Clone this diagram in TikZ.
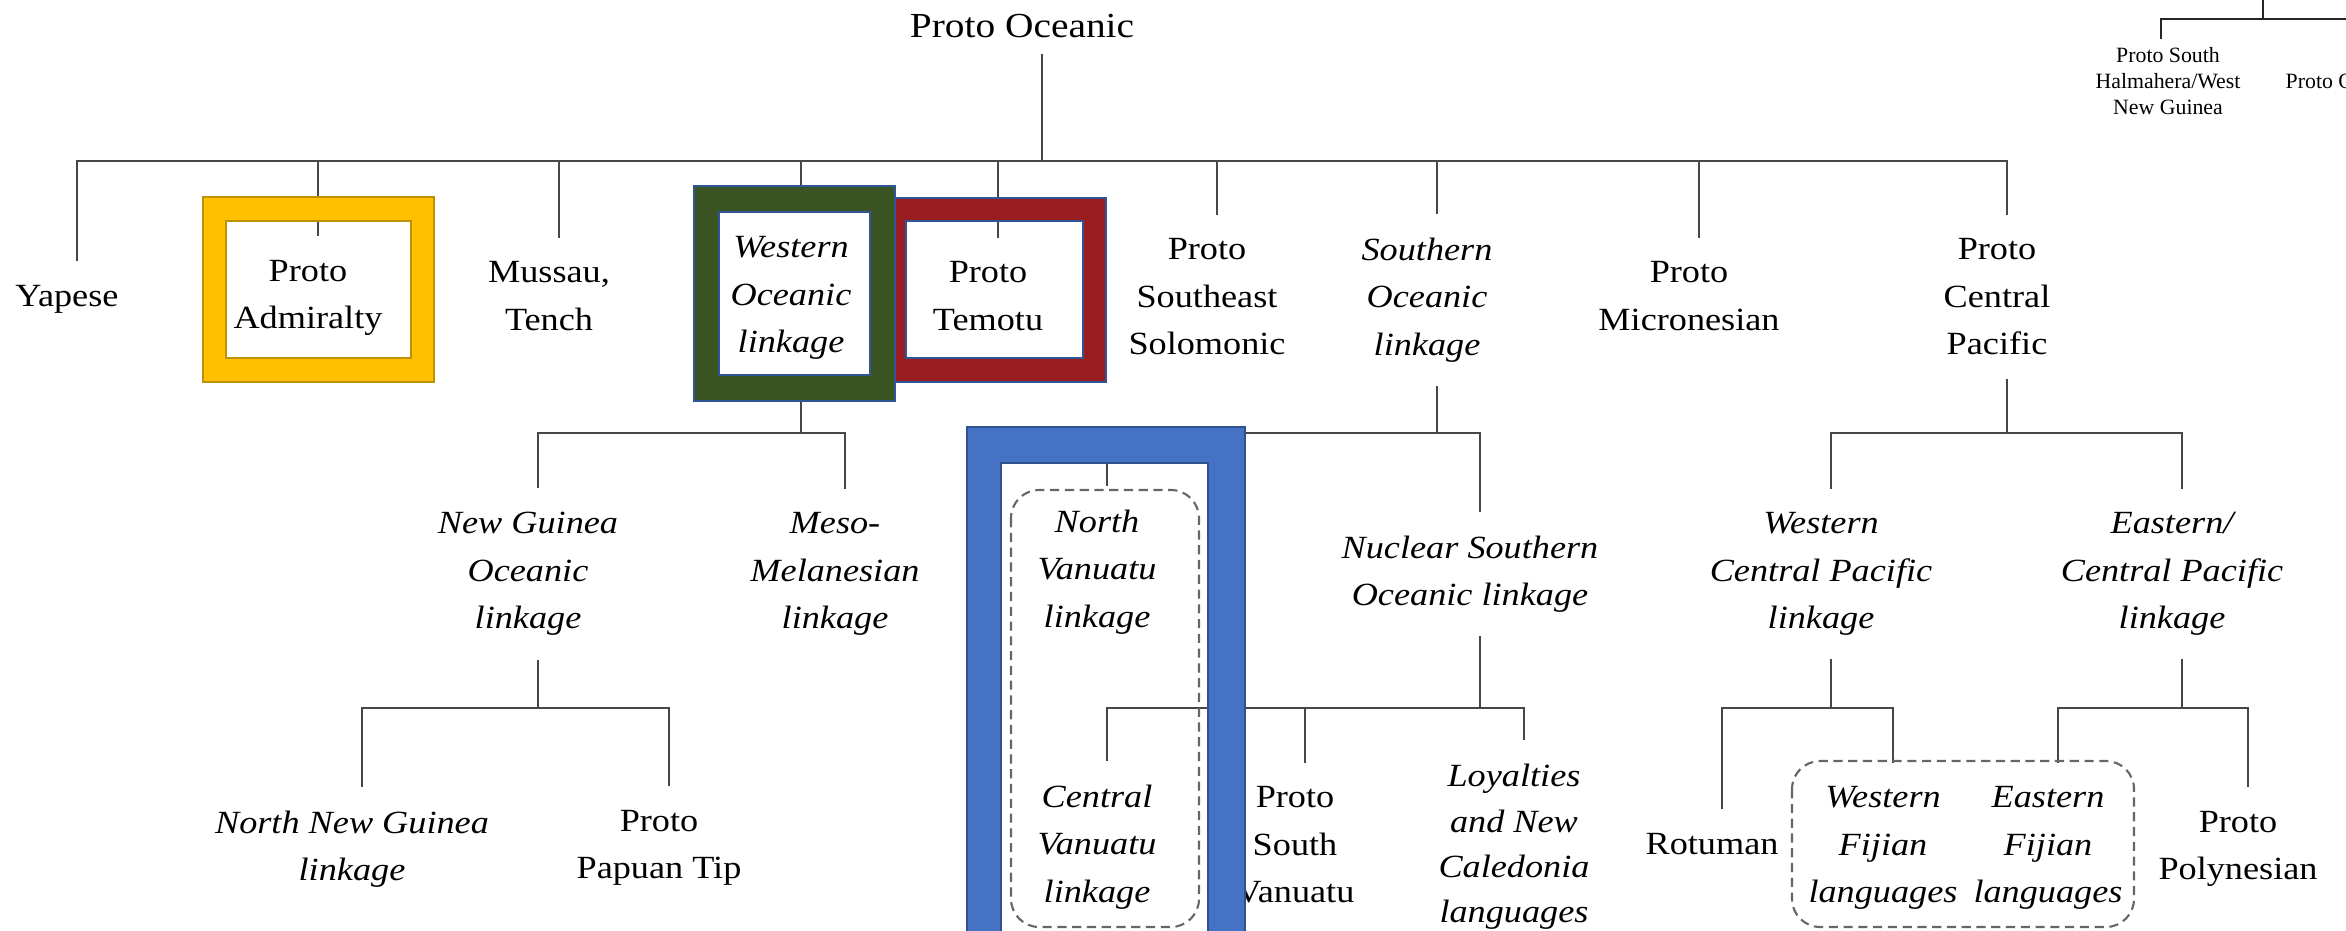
\documentclass[tikz,border=0pt]{standalone}
\usepackage{fontspec}
\setmainfont{Liberation Serif}[FakeStretch=1.12]
\newfontfamily\plainserif{Liberation Serif}
\definecolor{tgold}{HTML}{FFC000}
\definecolor{ogold}{HTML}{BF9000}
\definecolor{tgreen}{HTML}{3A5424}
\definecolor{tred}{HTML}{981C20}
\definecolor{tblue}{HTML}{4472C4}
\definecolor{oblue}{HTML}{2F5597}
\definecolor{oblue2}{HTML}{2F528F}
\tikzset{
  lbl/.style={font=\fontsize{9.2}{13.5}\selectfont, align=center, inner xsep=0pt, inner ysep=6.8pt, outer sep=0pt},
  itl/.style={lbl, font=\fontsize{9.2}{13.5}\selectfont\itshape},
  conn/.style={draw=black!72, line width=0.65pt},
  thinconn/.style={draw=black!85, line width=0.4pt},
  dbox/.style={draw=black!60, line width=0.6pt, dash pattern=on 2.6pt off 1.6pt, rounded corners=8pt},
  frame/.style={even odd rule, line width=0.45pt},
}
\begin{document}
\begin{tikzpicture}[x=0.01cm, y=-0.01cm]
\useasboundingbox (0,0) rectangle (2346,931);
\clip (0,0) rectangle (2346,931);

% ---------- text nodes ----------
\node[lbl, font=\fontsize{10}{12}\selectfont, inner ysep=4.5pt] (root) at (1022,26) {Proto Oceanic};
\node[lbl] (yap) at (67,299) {Yapese};
\node[lbl] (adm) at (308,298) {Proto\\Admiralty};
\node[lbl] (mus) at (549,296) {Mussau,\\Tench};
\node[itl] (wo) at (791,298) {Western\\Oceanic\\linkage};
\node[lbl] (tem) at (988,296) {Proto\\Temotu};
\node[lbl] (sese) at (1207,297) {Proto\\Southeast\\Solomonic};
\node[itl] (so) at (1427,300) {Southern\\Oceanic\\linkage};
\node[lbl] (mic) at (1689,296) {Proto\\Micronesian};
\node[lbl] (cp) at (1997,297) {Proto\\Central\\Pacific};

\node[itl] (ng) at (528,574) {New Guinea\\Oceanic\\linkage};
\node[itl] (meso) at (835,574) {Meso-\\Melanesian\\linkage};
\node[itl] (nv) at (1097,572) {North\\Vanuatu\\linkage};
\node[itl] (nso) at (1470,574) {Nuclear Southern\\Oceanic linkage};
\node[itl] (wcp) at (1821,574) {Western\\Central Pacific\\linkage};
\node[itl] (ecp) at (2172,574) {Eastern/\\Central Pacific\\linkage};

\node[itl] (nng) at (352,849) {North New Guinea\\linkage};
\node[lbl] (ppt) at (659,848) {Proto\\Papuan Tip};
\node[itl] (cv) at (1097,847) {Central\\Vanuatu\\linkage};
\node[lbl] (psv) at (1295,845) {Proto\\South\\Vanuatu};
\node[itl, font=\fontsize{9.2}{12.9}\selectfont\itshape] (loy) at (1514,847) {Loyalties\\and New\\Caledonia\\languages};
\node[lbl] (rot) at (1712,844) {Rotuman};
\node[itl] (wf) at (1883,848) {Western\\Fijian\\languages};
\node[itl] (ef) at (2048,848) {Eastern\\Fijian\\languages};
\node[lbl] (pp) at (2238,849) {Proto\\Polynesian};

% top-right fragment of another tree
\node[font=\plainserif\fontsize{6.2}{7.3}\selectfont, align=center, inner xsep=0pt, inner ysep=2.3pt] (shw) at (2168,81) {Proto South\\Halmahera/West\\New Guinea};
\node[font=\plainserif\fontsize{6.2}{7.3}\selectfont, anchor=west, inner sep=0pt] (poc) at (2285,81) {Proto Oceanic};

% ---------- connector anchor points ----------
\coordinate (root-b) at ([xshift=2mm]root.south);
\foreach \n in {yap,adm,mus,wo,tem,sese,so,mic,cp,ng,meso,nv,nso,wcp,ecp,nng,ppt,cv,psv,loy,rot,wf,ef,pp}
  \coordinate (\n-t) at ([xshift=1mm]\n.north);
\foreach \n in {wo,so,cp,ng,nso,wcp,ecp}
  \coordinate (\n-b) at ([xshift=1mm]\n.south);
\coordinate (y1) at (0,161);
\coordinate (y2) at (0,433);
\coordinate (y3) at (0,708);

% ---------- connectors ----------
\draw[conn] (root-b) -- (root-b |- y1);
\draw[conn] (yap-t) -- (yap-t |- y1) -- (cp-t |- y1) -- (cp-t);
\foreach \n in {adm,mus,wo,tem,sese,so,mic}
  \draw[conn] (\n-t |- y1) -- (\n-t);

\draw[conn] (wo-b) -- (wo-b |- y2);
\draw[conn] (ng-t) -- (ng-t |- y2) -- (meso-t |- y2) -- (meso-t);
\draw[conn] (so-b) -- (so-b |- y2);
\draw[conn] (nv-t) -- (nv-t |- y2) -- (nso-t |- y2) -- (nso-t);
\draw[conn] (cp-b) -- (cp-b |- y2);
\draw[conn] (wcp-t) -- (wcp-t |- y2) -- (ecp-t |- y2) -- (ecp-t);

\draw[conn] (ng-b) -- (ng-b |- y3);
\draw[conn] (nng-t) -- (nng-t |- y3) -- (ppt-t |- y3) -- (ppt-t);
\draw[conn] (nso-b) -- (nso-b |- y3);
\draw[conn] (cv-t) -- (cv-t |- y3) -- (loy-t |- y3) -- (loy-t);
\draw[conn] (psv-t |- y3) -- (psv-t);
\draw[conn] (wcp-b) -- (wcp-b |- y3);
\draw[conn] (rot-t) -- (rot-t |- y3) -- (wf-t |- y3) -- (wf-t);
\draw[conn] (ecp-b) -- (ecp-b |- y3);
\draw[conn] (ef-t) -- (ef-t |- y3) -- (pp-t |- y3) -- (pp-t);

% top-right connectors
\coordinate (pemp) at (2263,-20);
\coordinate (yt) at (0,19);
\coordinate (redge) at (2400,19);
\coordinate (shw-t) at ([xshift=-0.7mm]shw.north);
\draw[thinconn] (pemp) -- (pemp |- yt);
\draw[thinconn] (shw-t) -- (shw-t |- yt) -- (redge);

% ---------- coloured frames ----------
\path[frame, fill=tred, draw=oblue] (883,198) rectangle (1106,382) (906,221) rectangle (1083,358);
\path[frame, fill=tgreen, draw=oblue] (694,186) rectangle (895,401) (719,212) rectangle (870,375);
\path[frame, fill=tgold, draw=ogold] (203,197) rectangle (434,382) (226,221) rectangle (411,358);
\path[frame, fill=tblue, draw=oblue2] (967,427) rectangle (1245,1000) (1001,463) rectangle (1208,1000);

% ---------- dashed groups ----------
\draw[dbox] (1011,490) rectangle (1199,927);
\draw[dbox] (1792,761) rectangle (2134,927);
\end{tikzpicture}
\end{document}
